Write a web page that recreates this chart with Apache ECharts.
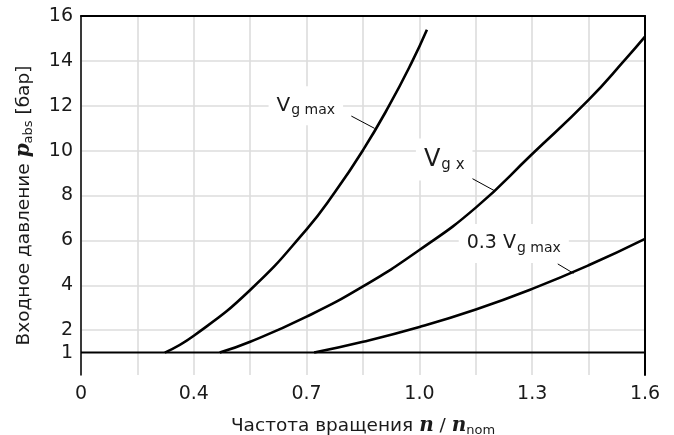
<!DOCTYPE html>
<html><head><meta charset="utf-8">
<script src="https://cdn.jsdelivr.net/npm/echarts@6/dist/echarts.min.js"></script>
<style>html,body{margin:0;padding:0;background:#fff}#c{width:674px;height:435px}</style>
</head><body><div id="c"></div>
<script>
// tick labels
const xTickValues = [0.1, 0.4, 0.7, 1.0, 1.3, 1.6];
const xTickLabels = ['0', '0.4', '0.7', '1.0', '1.3', '1.6'];
const yTickValues = [1, 2, 4, 6, 8, 10, 12, 14, 16];

// series values (n/n_nom, p_abs bar)
const baseX = [0.1, 1.6];
const baseY = [1, 1];
const vgMaxX = [0.323, 0.4, 0.55, 0.7, 0.775, 0.85, 0.919, 0.979, 1.02];
const vgMaxY = [1, 1.75, 3.79, 6.49, 8.14, 10.02, 11.99, 13.91, 15.39];
const vgXX = [0.469, 0.55, 0.7, 0.85, 1.0, 1.15, 1.3, 1.45, 1.55, 1.6];
const vgXY = [1, 1.48, 2.6, 3.95, 5.57, 7.46, 9.85, 12.26, 14.11, 15.08];
const v03X = [0.72, 0.85, 1.0, 1.15, 1.3, 1.45, 1.6];
const v03Y = [1, 1.48, 2.14, 2.92, 3.84, 4.89, 6.07];

// annotations
const labelVgMax = [0.698, 12.0];
const labelVgX = [1.066, 9.6];
const label03 = [1.251, 5.86];
const leaderVgMax = [[0.819, 11.54], [0.881, 10.99]];
const leaderVgX = [[1.128, 8.87], [1.2, 8.21]];
const leader03 = [[1.368, 4.95], [1.41, 4.53]];

const zip = (xs, ys) => xs.map((x, i) => [x, ys[i]]);
const TXT = '#1a1a1a';
const FONT = 'DejaVu Sans';

function richLbl(big, small, pad) {
  return {
    v: {fontSize: big, fontFamily: FONT, color: TXT},
    s: {fontSize: small, fontFamily: FONT, color: TXT, padding: [pad, 0, 0, 1]}
  };
}
function mp(coord, text, big, small, pad) {
  return {
    symbol: 'circle', symbolSize: 1, silent: true,
    itemStyle: {color: 'rgba(0,0,0,0)'},
    label: {show: true, position: 'inside', formatter: text, backgroundColor: '#fff',
      padding: [8, 8, 8, 8], rich: richLbl(big, small, pad)},
    data: [{coord: coord}]
  };
}
function ml(seg) {
  return {
    silent: true, symbol: ['none', 'none'], label: {show: false},
    lineStyle: {color: '#000', width: 1, type: 'solid'},
    emphasis: {disabled: true},
    data: [[{coord: seg[0]}, {coord: seg[1]}]]
  };
}
const lineStyle = {color: '#000', width: 2.6};
const titleRich = {
  t: {fontSize: 18.5, fontFamily: FONT, color: TXT},
  i: {fontSize: 20, fontFamily: 'DejaVu Serif', fontStyle: 'italic', fontWeight: 'bold', color: TXT},
  s: {fontSize: 13, fontFamily: FONT, color: TXT, padding: [9, 0, 0, 0]}
};

const ySplitColors = [];
for (let v = 0; v <= 16; v++) ySplitColors.push(v > 0 && v % 2 === 0 ? '#dcdcdc' : 'rgba(0,0,0,0)');

const chart = echarts.init(document.getElementById('c'), null, {renderer: 'canvas'});
chart.setOption({
  animation: false,
  backgroundColor: '#fff',
  grid: {left: 81, right: 29, top: 16, bottom: 60, containLabel: false, outerBoundsMode: 'none'},
  xAxis: [{
    type: 'value', min: 0.1, max: 1.6, interval: 0.15, position: 'bottom',
    axisLine: {show: false}, axisTick: {show: false},
    axisLabel: {
      color: TXT, fontSize: 19, fontFamily: FONT, margin: 10,
      formatter: v => {
        const i = xTickValues.findIndex(t => Math.abs(t - v) < 1e-6);
        return i >= 0 ? xTickLabels[i] : '';
      }
    },
    splitLine: {show: true, lineStyle: {color: '#dcdcdc', width: 1.6}},
    name: '{t|Частота вращения }{i|n}{t| / }{i|n}{s|nom}',
    nameLocation: 'middle', nameGap: 40,
    nameTextStyle: {rich: titleRich}
  }, {
    type: 'value', min: 0.1, max: 1.6, position: 'top',
    axisLine: {show: true, onZero: false, lineStyle: {color: '#000', width: 2}},
    axisTick: {show: false}, axisLabel: {show: false}, splitLine: {show: false}
  }],
  yAxis: [{
    type: 'value', min: 0, max: 16, interval: 1, position: 'left',
    axisLine: {show: true, onZero: false, lineStyle: {color: '#000', width: 1.5}},
    axisTick: {show: false},
    axisLabel: {
      color: TXT, fontSize: 19, fontFamily: FONT, margin: 8,
      formatter: v => yTickValues.indexOf(Math.round(v)) >= 0 ? String(Math.round(v)) : ''
    },
    splitLine: {show: true, lineStyle: {color: ySplitColors, width: 1.6}},
    name: '{t|Входное давление }{i|p}{s|abs}{t| [бар]}',
    nameLocation: 'middle', nameGap: 46, nameRotate: 90,
    nameTextStyle: {padding: [0, 20, 0, 0], rich: titleRich}
  }, {
    type: 'value', min: 0, max: 16, position: 'right',
    axisLine: {show: true, onZero: false, lineStyle: {color: '#000', width: 2}},
    axisTick: {show: false}, axisLabel: {show: false}, splitLine: {show: false}
  }],
  series: [
    {type: 'line', data: zip(baseX, baseY), showSymbol: false, lineStyle: {color: '#000', width: 2}, z: 3},
    {type: 'line', data: zip(vgMaxX, vgMaxY), smooth: 0.5, showSymbol: false, lineStyle: lineStyle, z: 3,
      markPoint: mp(labelVgMax, '{v|V}{s|g max}', 20, 14, 9), markLine: ml(leaderVgMax)},
    {type: 'line', data: zip(vgXX, vgXY), smooth: 0.5, showSymbol: false, lineStyle: lineStyle, z: 3,
      markPoint: mp(labelVgX, '{v|V}{s|g x}', 24, 15, 11), markLine: ml(leaderVgX)},
    {type: 'line', data: zip(v03X, v03Y), smooth: 0.5, showSymbol: false, lineStyle: lineStyle, z: 3,
      markPoint: mp(label03, '{v|0.3 V}{s|g max}', 19, 14, 9), markLine: ml(leader03)}
  ]
});
</script></body></html>
